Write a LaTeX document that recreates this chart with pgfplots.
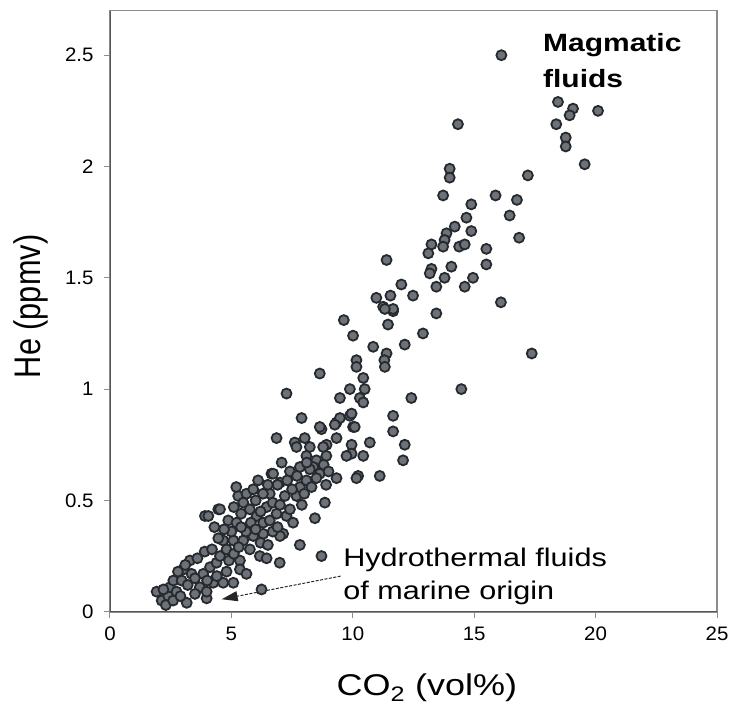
\documentclass[border=0pt]{standalone}
\usepackage{fontspec}
\setmainfont[FakeStretch=1.2]{Liberation Sans}
\newfontfamily\tickfont[FakeStretch=1.05]{Liberation Sans}
\newfontfamily\ylabfont[FakeStretch=0.83]{Liberation Sans}
\usepackage{pgfplots}
\pgfplotsset{compat=1.18}
\usetikzlibrary{arrows.meta}

\definecolor{dotfill}{RGB}{108,114,120}
\definecolor{dotline}{RGB}{38,42,46}
\definecolor{frame}{RGB}{140,140,140}
\definecolor{frameb}{RGB}{85,85,85}

% CO2 (vol%) vs He (ppmv)
\pgfplotstableread{
x y
16.12 2.50
18.45 2.29
19.07 2.26
18.93 2.23
20.10 2.25
18.38 2.19
18.77 2.13
18.77 2.09
19.55 2.01
14.33 2.19
13.99 1.99
13.99 1.95
17.21 1.96
15.88 1.87
16.76 1.85
16.46 1.78
13.72 1.87
14.88 1.83
14.68 1.77
14.20 1.73
14.88 1.71
16.85 1.68
13.86 1.70
13.24 1.65
13.11 1.61
13.78 1.67
13.72 1.64
14.38 1.64
14.61 1.65
15.50 1.63
15.50 1.56
13.24 1.54
13.17 1.52
14.06 1.55
13.78 1.50
14.95 1.50
14.61 1.46
13.44 1.46
11.39 1.58
12.00 1.47
12.48 1.42
10.97 1.41
11.55 1.42
11.25 1.37
11.66 1.35
13.44 1.34
9.63 1.31
16.10 1.39
12.89 1.25
12.14 1.20
10.84 1.19
11.39 1.16
11.30 1.13
11.32 1.10
10.01 1.24
10.15 1.13
10.15 1.10
8.64 1.07
7.27 0.98
10.43 1.05
10.49 1.00
9.88 1.00
9.47 0.96
10.29 0.96
10.43 0.94
12.41 0.96
14.47 1.00
17.37 1.16
11.45 1.29
11.66 1.36
11.32 1.36
7.89 0.87
8.71 0.82
9.33 0.85
9.88 0.88
10.01 0.83
11.66 0.88
11.66 0.81
12.14 0.75
12.07 0.68
10.70 0.76
10.43 0.70
6.86 0.78
7.61 0.76
8.02 0.78
8.92 0.75
9.33 0.78
9.95 0.75
9.95 0.71
9.47 0.87
9.26 0.84
10.08 0.83
8.64 0.83
7.68 0.74
8.23 0.74
8.09 0.70
8.50 0.68
8.78 0.74
8.91 0.70
9.74 0.70
7.07 0.67
7.41 0.63
6.65 0.62
7.82 0.65
8.37 0.65
8.64 0.62
9.33 0.60
10.22 0.61
11.11 0.61
10.15 0.60
9.95 0.89
8.85 0.49
8.44 0.42
7.82 0.30
6.99 0.22
8.71 0.25
6.24 0.10
3.16 0.04
3.98 0.06
3.91 0.43
4.46 0.46
1.92 0.09
2.13 0.05
2.40 0.07
2.47 0.11
2.74 0.09
2.61 0.14
2.95 0.14
3.02 0.19
3.29 0.23
3.36 0.17
3.70 0.11
3.98 0.09
4.25 0.13
4.66 0.13
5.08 0.13
3.84 0.17
4.12 0.20
4.39 0.22
4.53 0.25
4.80 0.28
4.66 0.32
5.08 0.32
5.49 0.32
5.90 0.34
6.31 0.35
5.76 0.28
6.17 0.25
6.45 0.24
5.35 0.23
5.35 0.19
5.62 0.17
4.46 0.33
4.05 0.43
4.53 0.46
4.87 0.41
5.21 0.40
5.28 0.52
5.62 0.53
5.49 0.49
5.76 0.46
6.04 0.43
6.45 0.47
6.31 0.40
6.58 0.41
6.86 0.44
7.27 0.43
7.41 0.46
7.54 0.40
7.13 0.35
7.68 0.52
7.82 0.56
8.09 0.59
8.23 0.64
6.72 0.62
6.58 0.53
7.00 0.58
7.00 0.34
2.20 0.10
2.30 0.03
2.60 0.05
2.90 0.07
3.20 0.12
3.50 0.15
3.50 0.08
2.80 0.18
3.10 0.21
3.60 0.24
3.90 0.27
4.20 0.28
4.00 0.14
4.40 0.16
4.80 0.18
4.90 0.23
5.10 0.26
5.30 0.29
5.60 0.36
5.40 0.38
5.00 0.36
4.70 0.37
4.30 0.38
5.80 0.40
6.00 0.37
6.20 0.31
6.50 0.30
6.70 0.36
6.90 0.38
6.20 0.45
6.00 0.50
6.30 0.53
6.70 0.49
7.00 0.48
7.20 0.52
7.50 0.55
7.30 0.59
7.70 0.61
7.90 0.48
8.00 0.53
8.30 0.56
8.50 0.60
8.10 0.67
8.80 0.66
9.00 0.63
8.90 0.57
6.90 0.57
6.50 0.57
6.10 0.59
5.90 0.55
5.40 0.44
5.10 0.47
5.20 0.56
}\gasdata

\begin{document}
\begin{tikzpicture}
\begin{axis}[
  name=ax,
  scale only axis,
  width=607pt, height=601pt,
  xmin=0, xmax=25, ymin=0, ymax=2.7,
  xtick={0,5,10,15,20,25},
  ytick={0,0.5,1,1.5,2,2.5},
  tick align=outside, xtick pos=bottom, ytick pos=left,
  major tick length=6pt,
  tick style={frame, line width=1pt},
  axis line style={frame, line width=1.6pt},
  /pgf/number format/assume math mode=true,
  ticklabel style={font=\fontsize{19.5}{19.5}\tickfont},
  yticklabel style={xshift=-7pt},
  xticklabel style={yshift=-6pt},
  xlabel={CO\textsubscript{2} (vol\%)},
  xlabel style={font=\fontsize{30}{30}\selectfont,
    at={(axis description cs:0.522,-0.139)}, anchor=base},
  ylabel={He (ppmv)},
  ylabel style={font=\fontsize{37}{37}\ylabfont,
    at={(axis description cs:-0.1153,0.508)}, anchor=base},
]
\addplot[only marks, mark=*, mark size=5pt,
  mark options={fill=dotfill, draw=dotline, line width=1.8pt}]
  table[x=x, y=y] {\gasdata};

% darker left and bottom axis lines
\draw[frameb, line width=2pt] (rel axis cs:0,1) -- (rel axis cs:0,0) -- (rel axis cs:1,0);

\node[anchor=base west, inner sep=0pt, font=\fontsize{25}{25}\selectfont\bfseries]
  at (axis cs:17.83,2.515) {Magmatic};
\node[anchor=base west, inner sep=0pt, font=\fontsize{25}{25}\selectfont\bfseries]
  at (axis cs:17.83,2.355) {fluids};
\node[anchor=base west, inner sep=0pt, font=\fontsize{25.5}{25.5}\selectfont]
  at (axis cs:9.60,0.205) {Hydrothermal fluids};
\node[anchor=base west, inner sep=0pt, font=\fontsize{25.5}{25.5}\selectfont]
  at (axis cs:9.60,0.057) {of marine origin};
\draw[black!85, line width=1pt, dash pattern=on 3pt off 1.5pt,
  -{Triangle[length=16pt, width=10pt]}]
  (axis cs:9.50,0.160) -- (axis cs:4.60,0.056);
\end{axis}
\pgfresetboundingbox
\path[use as bounding box] ([shift={(-110pt,-94.3pt)}]ax.south west)
  rectangle ([shift={(18pt,10.7pt)}]ax.north east);
\end{tikzpicture}
\end{document}
